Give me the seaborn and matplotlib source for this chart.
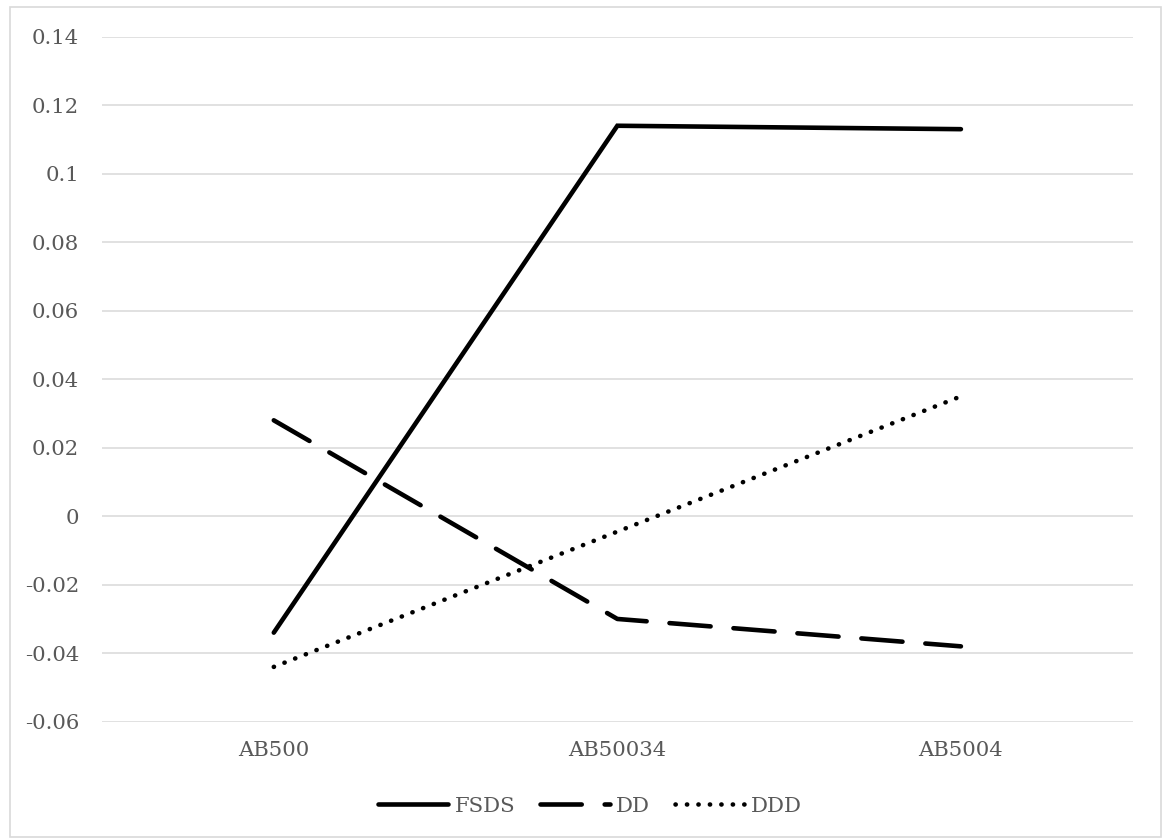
import matplotlib
matplotlib.use("Agg")
import matplotlib.pyplot as plt
import seaborn as sns
import pandas as pd
from matplotlib.patches import Rectangle

# Categories and series values
categories = ["AB500", "AB50034", "AB5004"]
fsds = [-0.034, 0.114, 0.113]
dd = [0.028, -0.030, -0.038]
ddd = [-0.044, -0.0045, 0.035]
series_names = ["FSDS", "DD", "DDD"]
y_ticks = [-0.06, -0.04, -0.02, 0, 0.02, 0.04, 0.06, 0.08, 0.1, 0.12, 0.14]
y_tick_labels = ["-0.06", "-0.04", "-0.02", "0", "0.02", "0.04", "0.06", "0.08", "0.1", "0.12", "0.14"]

sns.set_theme(style="white")
plt.rcParams["font.family"] = ["DejaVu Serif"]
text_color = "#595959"
grid_color = "#d9d9d9"
label_size = 15.3

rows = []
for name, vals in zip(series_names, [fsds, dd, ddd]):
    for i, v in enumerate(vals):
        rows.append({"pos": i, "value": v, "series": name})
df = pd.DataFrame(rows)

fig = plt.figure(figsize=(11.68, 8.4), dpi=100)
ax = fig.add_axes([102 / 1168, 1 - 721.7 / 840, (1132.7 - 102) / 1168, (721.7 - 36.7) / 840])

dash_styles = {"FSDS": "", "DD": (9.0, 5.0), "DDD": (0.05, 2.45)}
sns.lineplot(
    data=df, x="pos", y="value", hue="series", style="series",
    hue_order=series_names, style_order=series_names,
    palette=["black"] * 3, dashes=dash_styles, linewidth=3.3,
    sort=False, ax=ax, legend=False,
)
for line in ax.get_lines():
    line.set_dash_capstyle("round")
    line.set_solid_capstyle("round")
    line.set_solid_joinstyle("miter")

ax.set_xlim(-0.5, 2.5)
ax.set_ylim(-0.06, 0.14)
ax.set_yticks(y_ticks)
ax.set_yticklabels(y_tick_labels)
ax.set_xticks(range(len(categories)))
ax.set_xticklabels(categories)
ax.set_xlabel("")
ax.set_ylabel("")
ax.tick_params(axis="y", length=0, pad=16.5, labelsize=label_size, labelcolor=text_color)
ax.tick_params(axis="x", length=0, pad=14, labelsize=label_size, labelcolor=text_color)
ax.yaxis.grid(True, color=grid_color, linewidth=1.1)
ax.set_axisbelow(True)
for s in ax.spines.values():
    s.set_visible(False)

handles = ax.get_lines()[:3]
leg = fig.legend(
    handles, series_names, loc="center", bbox_to_anchor=(590 / 1168, 1 - 806 / 840),
    ncol=3, frameon=False, fontsize=label_size, handlelength=3.3, handletextpad=0.3,
    columnspacing=1.15, labelcolor=text_color,
)

# Outer chart border
fig.patches.append(Rectangle((10 / 1168, 1 - 837 / 840), (1161 - 10) / 1168, (837 - 7) / 840,
                             transform=fig.transFigure, fill=False,
                             edgecolor=grid_color, linewidth=1.2))

fig.savefig("out.png", dpi=100, facecolor="white")
